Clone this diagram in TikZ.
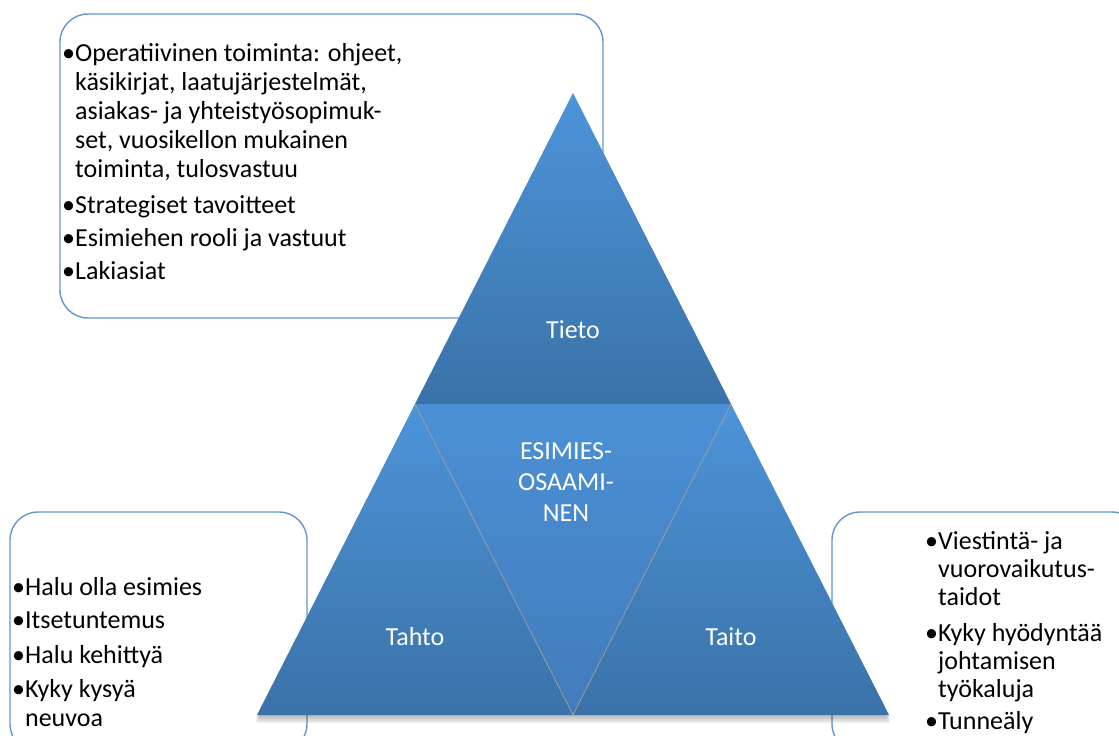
\documentclass[tikz,border=0pt]{standalone}
\usepackage{fontspec}
\setmainfont{Carlito}
\usetikzlibrary{calc}
\definecolor{boxline}{HTML}{6495D0}
\definecolor{tritop}{HTML}{4D94D9}
\definecolor{tribot}{HTML}{3A72A8}
\definecolor{coretop}{HTML}{4B90D6}
\definecolor{corebot}{HTML}{427CBA}
\tikzset{
  infobox/.style={draw=boxline, line width=1.4pt, rounded corners=28pt, fill=white},
  listtext/.style={anchor=north west, inner sep=0pt, align=left, font=\fontsize{26}{29}\selectfont},
  tripart/.style={top color=tritop, bottom color=tribot},
  corepart/.style={top color=coretop, bottom color=corebot},
  trilabel/.style={text=white, inner sep=0pt, align=center, font=\fontsize{26}{31}\selectfont},
  seam/.style={draw=gray!75, line width=0.7pt}
}
\newcommand{\ind}{\hphantom{•}}

\begin{document}
\begin{tikzpicture}[x=1pt, y=-1pt]
  \clip (0,0) rectangle (1119,736);

  % boxes behind the pyramid
  \draw[infobox] (60,14) rectangle (603,318);
  \draw[infobox] (10,512) rectangle (307,752);
  \draw[infobox] (832,512) rectangle (1140,752);

  \node[listtext] (tietolist) at (62,43) {•Operatiivinen toiminta: ohjeet,\\
    \ind käsikirjat, laatujärjestelmät,\\
    \ind asiakas- ja yhteistyösopimuk-\\
    \ind set, vuosikellon mukainen\\
    \ind toiminta, tulosvastuu\\[7pt]
    •Strategiset tavoitteet\\[4pt]
    •Esimiehen rooli ja vastuut\\[4pt]
    •Lakiasiat};
  \node[listtext] (tahtolist) at (12,577) {•Halu olla esimies\\[4pt]
    •Itsetuntemus\\[6pt]
    •Halu kehittyä\\[5pt]
    •Kyky kysyä\\
    \ind neuvoa};
  \node[listtext, font=\fontsize{26}{28}\selectfont] (taitolist) at (925,531) {•Viestintä- ja\\
    \ind vuorovaikutus-\\
    \ind taidot\\[8pt]
    •Kyky hyödyntää\\
    \ind johtamisen\\
    \ind työkaluja\\[4pt]
    •Tunneäly};

  % pyramid corners
  \coordinate (apex) at (573,93);
  \coordinate (baseL) at (257,715);
  \coordinate (baseR) at (889,715);
  \coordinate (midL) at ($(apex)!0.5!(baseL)$);
  \coordinate (midR) at ($(apex)!0.5!(baseR)$);
  \coordinate (midB) at ($(baseL)!0.5!(baseR)$);

  % soft shadow
  \foreach \d in {2,4,6,8}
    \fill[black, opacity=0.07] ($(apex)+(0,\d)$) -- ($(baseR)+(1,\d)$) -- ($(baseL)+(-1,\d)$) -- cycle;

  \shade[tripart] (apex) -- (midR) -- (midL) -- cycle;
  \shade[tripart] (midL) -- (midB) -- (baseL) -- cycle;
  \shade[tripart] (midR) -- (baseR) -- (midB) -- cycle;
  \shade[corepart] (midL) -- (midR) -- (midB) -- cycle;
  \draw[seam] (midL) -- (midB) -- (midR);

  \node[trilabel] (tieto) at (573,330) {Tieto};
  \node[trilabel] (core) at (566,482) {ESIMIES-\\OSAAMI-\\NEN};
  \node[trilabel] (tahto) at (415,637) {Tahto};
  \node[trilabel] (taito) at (731,637) {Taito};
\end{tikzpicture}
\end{document}
